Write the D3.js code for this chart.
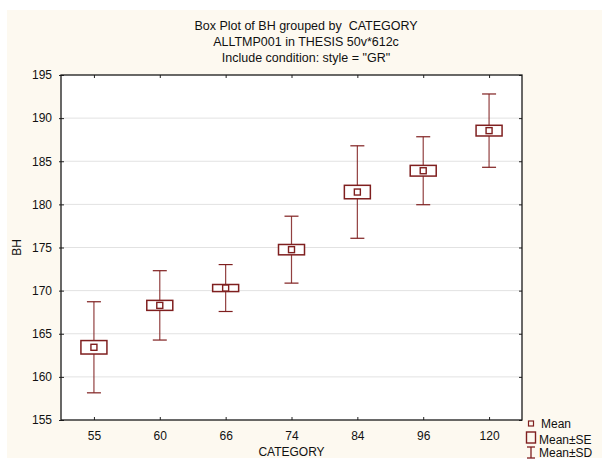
<!DOCTYPE html>
<html>
<head>
<meta charset="utf-8">
<script src="https://cdn.jsdelivr.net/npm/d3@7"></script>
<style>
  html, body { margin: 0; padding: 0; background: #ffffff; }
  svg { display: block; font-family: "Liberation Sans", Arial, sans-serif; }
</style>
</head>
<body>
<svg id="chart" width="602" height="459"></svg>
<script>
// Category groups and summary statistics of BH
const categories = ["55", "60", "66", "74", "84", "96", "120"];
const means = [163.43, 168.29, 170.30, 174.75, 181.43, 183.90, 188.55];
const stdErrs = [0.78, 0.58, 0.41, 0.60, 0.78, 0.62, 0.62];
const stdDevs = [5.28, 4.02, 2.72, 3.88, 5.36, 3.94, 4.25];
const yTicks = [155, 160, 165, 170, 175, 180, 185, 190, 195];
const titleLines = [
  "Box Plot of BH grouped by  CATEGORY",
  "ALLTMP001 in THESIS 50v*612c",
  "Include condition: style = \"GR\""
];
const legendLabels = ["Mean", "Mean\u00B1SE", "Mean\u00B1SD"];

const svg = d3.select("#chart");
const W = 602, H = 459;
const plot = { left: 61, top: 75, right: 522, bottom: 420 };
const markColor = "#7f1f1f";

// Page background panel
svg.append("rect").attr("x", 7).attr("y", 10).attr("width", W - 7).attr("height", 448)
  .attr("fill", "#fdf9f0");

// Plot area
svg.append("rect")
  .attr("x", plot.left).attr("y", plot.top)
  .attr("width", plot.right - plot.left).attr("height", plot.bottom - plot.top)
  .attr("fill", "#ffffff");

const x = d3.scalePoint().domain(categories).range([plot.left, plot.right]).padding(0.5);
const y = d3.scaleLinear().domain([155, 195]).range([plot.bottom, plot.top]);

// Horizontal gridlines
svg.append("g").selectAll("line").data(yTicks.slice(1, -1)).join("line")
  .attr("x1", plot.left).attr("x2", plot.right)
  .attr("y1", d => y(d)).attr("y2", d => y(d))
  .attr("stroke", "#e2e2e2").attr("stroke-width", 1);

// Axes
const axisStyle = g => {
  g.select(".domain").remove();
  g.selectAll(".tick line").attr("stroke", "#222");
  g.selectAll(".tick text").attr("fill", "#111").style("font-size", "12px")
    .style("font-family", "'Liberation Sans', Arial, sans-serif");
};

svg.append("g").attr("transform", `translate(${plot.left},0)`)
  .call(d3.axisLeft(y).tickValues(yTicks).tickSize(3).tickPadding(6).tickFormat(d3.format("d")))
  .call(axisStyle)
  .call(g => g.selectAll(".tick line").attr("x2", 3).attr("x1", -2));

svg.append("g").attr("transform", `translate(${plot.right},0)`)
  .call(d3.axisLeft(y).tickValues(yTicks).tickSize(3).tickFormat(""))
  .call(axisStyle);

svg.append("g").attr("transform", `translate(0,${plot.bottom})`)
  .call(d3.axisTop(x).tickSize(3).tickFormat(""))
  .call(axisStyle);

svg.append("g").attr("transform", `translate(0,${plot.bottom})`)
  .call(d3.axisBottom(x).tickSize(0).tickPadding(11))
  .call(axisStyle);

svg.append("g").attr("transform", `translate(0,${plot.top})`)
  .call(d3.axisBottom(x).tickSize(3).tickFormat(""))
  .call(axisStyle);

// Frame
svg.append("rect")
  .attr("x", plot.left).attr("y", plot.top)
  .attr("width", plot.right - plot.left).attr("height", plot.bottom - plot.top)
  .attr("fill", "none").attr("stroke", "#1a1a1a").attr("stroke-width", 1.3);

// Whiskers (mean ± SD), boxes (mean ± SE), mean markers
const boxW = 26, capW = 14, meanS = 6;
const groups = svg.append("g").selectAll("g")
  .data(categories.map((c, i) => ({ c, m: means[i], se: stdErrs[i], sd: stdDevs[i] })))
  .join("g").attr("stroke", markColor).attr("fill", "none").attr("stroke-width", 1.2);

groups.append("line")
  .attr("x1", d => x(d.c)).attr("x2", d => x(d.c))
  .attr("y1", d => y(d.m + d.sd)).attr("y2", d => y(d.m - d.sd))
  .attr("stroke-opacity", 0.85);
groups.append("line")
  .attr("x1", d => x(d.c) - capW / 2).attr("x2", d => x(d.c) + capW / 2)
  .attr("y1", d => y(d.m + d.sd)).attr("y2", d => y(d.m + d.sd));
groups.append("line")
  .attr("x1", d => x(d.c) - capW / 2).attr("x2", d => x(d.c) + capW / 2)
  .attr("y1", d => y(d.m - d.sd)).attr("y2", d => y(d.m - d.sd));
groups.append("rect")
  .attr("x", d => x(d.c) - boxW / 2).attr("width", boxW)
  .attr("y", d => y(d.m + d.se)).attr("height", d => y(d.m - d.se) - y(d.m + d.se))
  .attr("fill", "#ffffff").attr("stroke-width", 1.5);
groups.append("rect")
  .attr("x", d => x(d.c) - meanS / 2).attr("width", meanS)
  .attr("y", d => y(d.m) - meanS / 2).attr("height", meanS)
  .attr("fill", "#ffffff").attr("stroke-width", 1.4);

// Titles
svg.append("g").selectAll("text").data(titleLines).join("text")
  .attr("x", 306).attr("y", (d, i) => 30 + i * 16)
  .attr("text-anchor", "middle").style("font-size", "12.5px").attr("fill", "#111")
  .style("white-space", "pre").attr("xml:space", "preserve")
  .text(d => d);

// Axis titles
svg.append("text").attr("x", (plot.left + plot.right) / 2).attr("y", 456)
  .attr("text-anchor", "middle").style("font-size", "12px").attr("fill", "#111").text("CATEGORY");
svg.append("text").attr("transform", `translate(21,${(plot.top + plot.bottom) / 2}) rotate(-90)`)
  .attr("text-anchor", "middle").style("font-size", "12px").attr("fill", "#111").text("BH");

// Legend
const lg = svg.append("g").attr("stroke", markColor).attr("fill", "none").attr("stroke-width", 1.3);
lg.append("rect").attr("x", 528.5).attr("y", 421).attr("width", 5).attr("height", 5).attr("stroke-width", 1.2);
lg.append("rect").attr("x", 526.5).attr("y", 432).attr("width", 9).attr("height", 11).attr("stroke-width", 1.4);
lg.append("line").attr("x1", 531).attr("x2", 531).attr("y1", 447).attr("y2", 458);
lg.append("line").attr("x1", 527).attr("x2", 535).attr("y1", 447).attr("y2", 447);
lg.append("line").attr("x1", 527).attr("x2", 535).attr("y1", 458).attr("y2", 458);
svg.append("g").selectAll("text").data(legendLabels).join("text")
  .attr("x", (d, i) => i === 0 ? 541 : 539)
  .attr("y", (d, i) => [428, 444, 457][i])
  .style("font-size", "12px").attr("fill", "#111").text(d => d);
</script>
</body>
</html>
